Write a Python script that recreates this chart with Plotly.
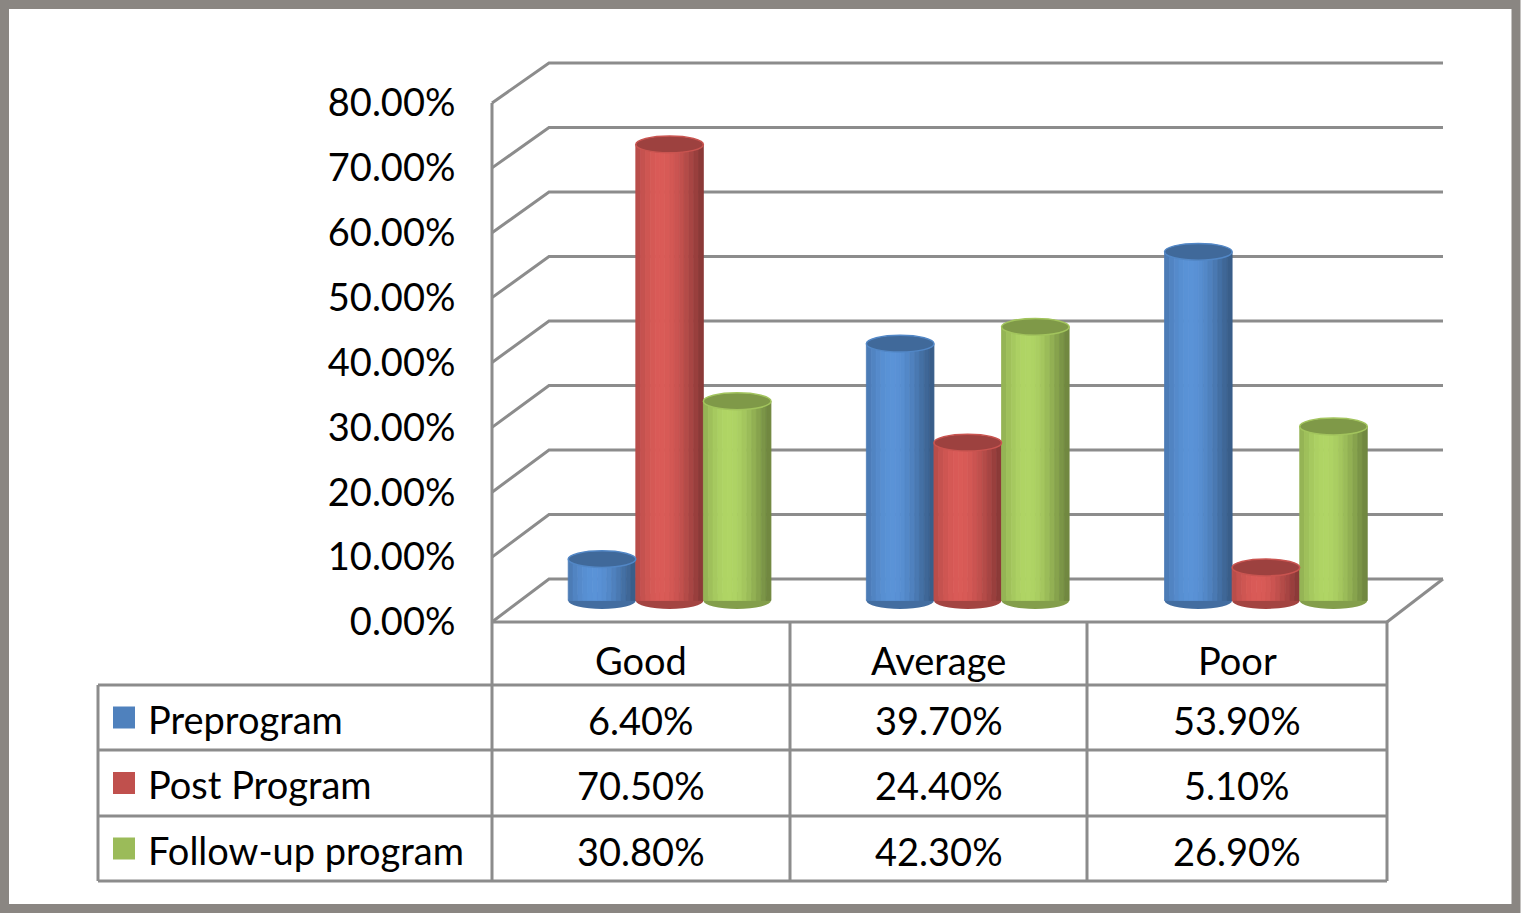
import math
import plotly.graph_objects as go

categories = ["Good", "Average", "Poor"]
series_names = ["Preprogram", "Post Program", "Follow-up program"]
preprogram = [0.064, 0.397, 0.539]
post_program = [0.705, 0.244, 0.051]
follow_up = [0.308, 0.423, 0.269]
tick_values = [0, 0.1, 0.2, 0.3, 0.4, 0.5, 0.6, 0.7, 0.8]

series = [preprogram, post_program, follow_up]
colors = ["#4F81BD", "#C0504D", "#9BBB59"]

W, H = 1522, 915
FONT = "Lato"
GRID = "#8c8c8c"


def px(x):
    return x / W


def py(y):
    return 1 - y / H


def shade(hex_col, f):
    r, g, b = (int(hex_col[i:i + 2], 16) for i in (1, 3, 5))
    return "rgb({},{},{})".format(*(min(255, int(c * f)) for c in (r, g, b)))


# pixel geometry of the fake 3d box
front_left, back_left, back_right, front_right = 492, 549, 1443, 1387
front_zero, front_top = 622, 103
back_zero, back_top = 579, 63
bargap = 0.32
w = (1 - bargap) / 3
n_strips = 14

# bar axis sits half way between the front and back planes,
# with a little room below zero for the rounded cylinder bottoms
bar_zero = (front_zero + back_zero) / 2
bar_top = (front_top + back_top) / 2
y_low = -0.03
bar_bottom = bar_zero + (bar_zero - bar_top) * (-y_low) / tick_values[-1]

fig = go.Figure()

# each cylinder is a few thin bars with a light-to-dark shading
for j, (name, vals, col) in enumerate(zip(series_names, series, colors)):
    for k in range(n_strips):
        t = (k + 0.5) / n_strips
        f = 0.68 + 0.46 * max(0.0, math.cos(math.pi * (t - 0.38) / 1.3)) ** 1.2
        c = shade(col, f)
        fig.add_trace(go.Bar(x=categories, y=vals, name=name, marker_color=c,
                             marker_line=dict(color=c, width=0.8),
                             offset=(j - 1.5) * w + k * w / n_strips, width=w / n_strips,
                             showlegend=False, hoverinfo="skip" if k else None))

# invisible trace so the front value axis gets drawn
fig.add_trace(go.Scatter(x=[0], y=[0], xaxis="x2", yaxis="y2", mode="markers",
                         marker_opacity=0, showlegend=False, hoverinfo="skip"))

shapes = []


# perspective gridlines
def front_y(v):
    return front_zero + (front_top - front_zero) * v / tick_values[-1]


def back_y(v):
    return back_zero + (back_top - back_zero) * v / tick_values[-1]


for v in tick_values:
    fy, by = front_y(v), back_y(v)
    shapes.append(dict(type="path", xref="paper", yref="paper", layer="below",
                       path=f"M{px(front_left)},{py(fy)} L{px(back_left)},{py(by)} L{px(back_right)},{py(by)}",
                       line=dict(color=GRID, width=3)))
# floor right edge
shapes.append(dict(type="line", xref="paper", yref="paper", layer="below",
                   x0=px(back_right), y0=py(back_zero), x1=px(front_right), y1=py(front_zero),
                   line=dict(color=GRID, width=3)))

# cylinder caps
half_h = 0.013
for j, (vals, col) in enumerate(zip(series, colors)):
    for i, v in enumerate(vals):
        cx = i + (j - 1) * w
        shapes.append(dict(type="circle", xref="x", yref="y", layer="below",
                           x0=cx - w / 2, x1=cx + w / 2, y0=-half_h, y1=half_h,
                           fillcolor=shade(col, 0.85), line_width=0))
        shapes.append(dict(type="circle", xref="x", yref="y", layer="above",
                           x0=cx - w / 2, x1=cx + w / 2, y0=v - half_h, y1=v + half_h,
                           fillcolor=shade(col, 0.82), line=dict(color=shade(col, 1.05), width=1.5)))

# data table grid
table_left = 98
col_edges = [492, 790, 1087, 1387]
row_edges = [622, 685, 750, 816, 881]
line = dict(color=GRID, width=3)
for y in row_edges[1:]:
    shapes.append(dict(type="line", xref="paper", yref="paper", x0=px(table_left), x1=px(col_edges[-1]),
                       y0=py(y), y1=py(y), line=line))
shapes.append(dict(type="line", xref="paper", yref="paper", x0=px(front_left), x1=px(front_right),
                   y0=py(front_zero), y1=py(front_zero), line=line))
shapes.append(dict(type="line", xref="paper", yref="paper", x0=px(table_left), x1=px(table_left),
                   y0=py(row_edges[1]), y1=py(row_edges[-1]), line=line))
shapes.append(dict(type="line", xref="paper", yref="paper", x0=px(col_edges[0]), x1=px(col_edges[0]),
                   y0=py(front_top), y1=py(row_edges[-1]), line=line))
for x in col_edges[1:]:
    shapes.append(dict(type="line", xref="paper", yref="paper", x0=px(x), x1=px(x),
                       y0=py(row_edges[0]), y1=py(row_edges[-1]), line=line))

annotations = []
fsize = 38
txt = dict(size=fsize, color="black", family=FONT)
for i, c in enumerate(categories):
    cx = (col_edges[i] + col_edges[i + 1]) / 2
    annotations.append(dict(x=px(cx), y=py((row_edges[0] + row_edges[1]) / 2 + 6), xref="paper", yref="paper",
                            xanchor="center", yanchor="middle", text=c, showarrow=False, font=txt))
    for j, vals in enumerate(series):
        ry = (row_edges[j + 1] + row_edges[j + 2]) / 2
        annotations.append(dict(x=px(cx), y=py(ry + 2), xref="paper", yref="paper",
                                xanchor="center", yanchor="middle",
                                text=f"{vals[i]:.2%}", showarrow=False, font=txt))

for j, (name, col) in enumerate(zip(series_names, colors)):
    ry = (row_edges[j + 1] + row_edges[j + 2]) / 2
    shapes.append(dict(type="rect", xref="paper", yref="paper", x0=px(113), x1=px(135),
                       y0=py(ry + 11), y1=py(ry - 11), fillcolor=col, line_width=0))
    annotations.append(dict(x=px(146), y=py(ry + 1), xref="paper", yref="paper", xanchor="left",
                            yanchor="middle", text=name, showarrow=False, font=txt))

# outer frame
shapes.append(dict(type="rect", xref="paper", yref="paper", x0=px(4.5), x1=px(1516), y0=py(4.5), y1=py(908.5),
                   line=dict(color="#8a8682", width=9)))

fig.update_layout(
    width=W, height=H,
    margin=dict(l=0, r=0, t=0, b=0),
    paper_bgcolor="white", plot_bgcolor="rgba(0,0,0,0)",
    barmode="overlay",
    shapes=shapes, annotations=annotations,
    xaxis=dict(domain=[px(520.5), px(1415)], visible=False, range=[-0.5, 2.5], automargin=False),
    yaxis=dict(domain=[py(bar_bottom), py(bar_top)],
               range=[y_low, tick_values[-1]], visible=False, automargin=False),
    xaxis2=dict(domain=[px(front_left), px(front_right)], anchor="y2", visible=False, range=[0, 1],
                automargin=False),
    yaxis2=dict(domain=[py(front_zero), py(front_top)], anchor="x2", range=[0, tick_values[-1]],
                tickvals=tick_values, tickformat=".2%", showgrid=False, zeroline=False, showline=False,
                ticks="outside", ticklen=28, tickcolor="rgba(0,0,0,0)", automargin=False,
                tickfont=txt),
)

fig.write_html("out.html", config={"displayModeBar": False},
               post_script="document.body.style.margin = '0px';")
